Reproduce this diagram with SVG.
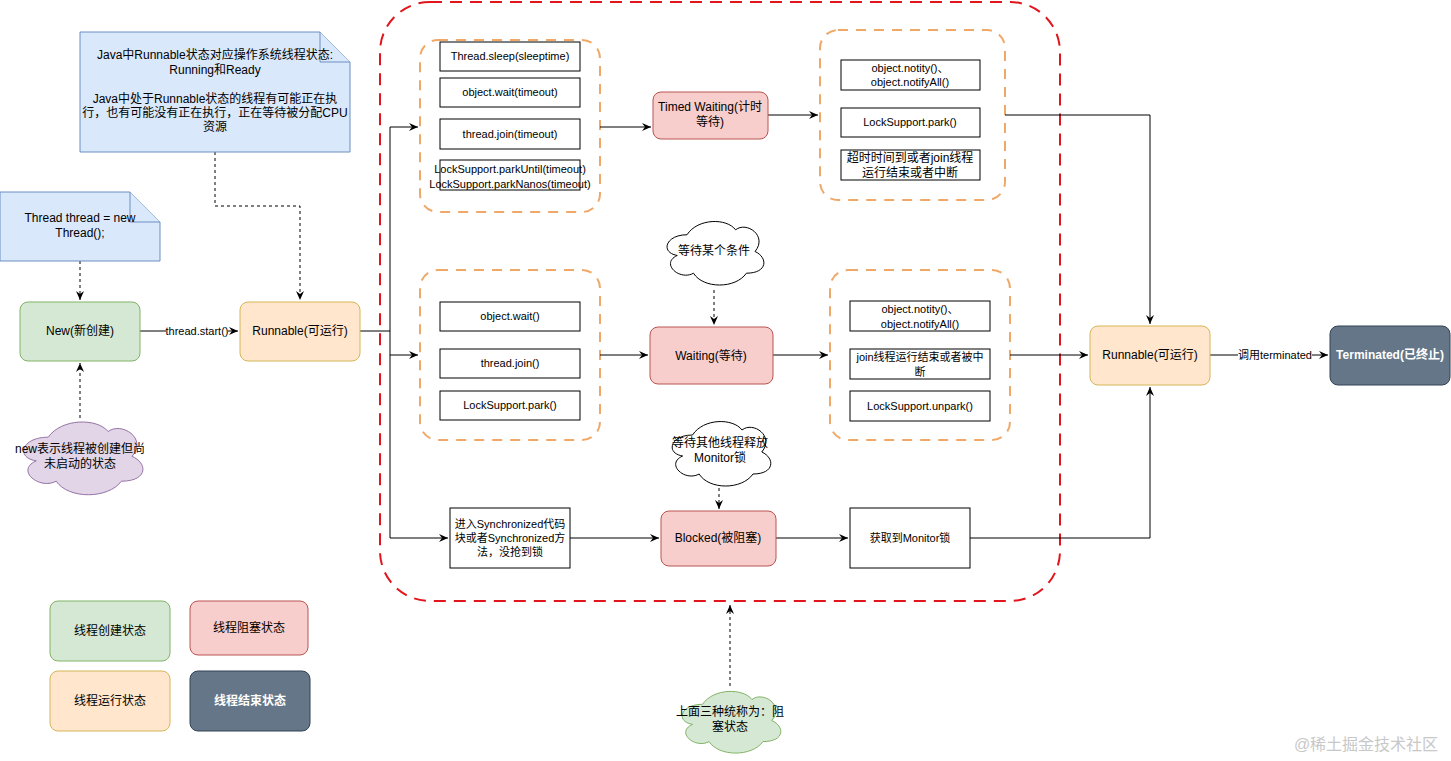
<svg xmlns="http://www.w3.org/2000/svg" xmlns:xlink="http://www.w3.org/1999/xlink" width="1451" height="761" viewBox="0 0 1451 761">
<style>
text{font-family:"Liberation Sans","Noto Sans CJK SC",sans-serif;font-size:12px;fill:#000;text-anchor:middle}
.s{font-size:11px}
.green{fill:#d5e8d4;stroke:#82b366}
.orange{fill:#ffe6cc;stroke:#d6b656}
.red{fill:#f8cecc;stroke:#b85450}
.dark{fill:#647687;stroke:#314354}
.note{fill:#dae8fc;stroke:#6c8ebf}
.box{fill:#fff;stroke:#000}
.grp{fill:none;stroke:#f0a868;stroke-width:2;stroke-dasharray:10 8}
.c{fill:none;stroke:#000}
.d{fill:none;stroke:#000;stroke-dasharray:3 3}
.w{fill:#fff;font-weight:bold}
</style>
<defs>
<marker id="a" markerWidth="10" markerHeight="10" refX="9" refY="5" orient="auto" markerUnits="userSpaceOnUse"><path d="M0,1 L9,5 L0,9 L3,5 Z" fill="#000"/></marker>
<symbol id="cloud" viewBox="0 0 100 70" preserveAspectRatio="none" overflow="visible"><path vector-effect="non-scaling-stroke" d="M25 17 C5 17 0 35 16 38 C0 46 18 64 31 56 C40 72 70 72 80 56 C100 56 100 40 88 34 C100 18 80 3 70 12 C62 0 35 0 25 17 Z"/></symbol>
</defs>
<rect width="1451" height="761" fill="#fff"/>
<rect x="380" y="2" width="680" height="599" rx="50" fill="none" stroke="#e0161c" stroke-width="2" stroke-dasharray="12 8"/>
<g id="groups">
<rect class="grp" x="420" y="40" width="180" height="172" rx="18"/>
<rect class="grp" x="820" y="30" width="185" height="170" rx="18"/>
<rect class="grp" x="420" y="270" width="180" height="170" rx="18"/>
<rect class="grp" x="830" y="270" width="180" height="170" rx="18"/>
</g>
<g id="connectors">
<path class="d" d="M215 152 V206 H300 V300" marker-end="url(#a)"/>
<path class="d" d="M80 261 V300" marker-end="url(#a)"/>
<path class="d" d="M80 418 V363" marker-end="url(#a)"/>
<path class="c" d="M140 331 H238" marker-end="url(#a)"/>
<path class="c" d="M360 331 H390"/>
<path class="c" d="M390 127 V538"/>
<path class="c" d="M390 127 H418" marker-end="url(#a)"/>
<path class="c" d="M390 355 H418" marker-end="url(#a)"/>
<path class="c" d="M390 538 H448" marker-end="url(#a)"/>
<path class="c" d="M600 127 H651" marker-end="url(#a)"/>
<path class="c" d="M768 115 H818" marker-end="url(#a)"/>
<path class="c" d="M1005 115 H1150 V324" marker-end="url(#a)"/>
<path class="c" d="M600 355 H648" marker-end="url(#a)"/>
<path class="c" d="M773 355 H828" marker-end="url(#a)"/>
<path class="c" d="M1010 355 H1088" marker-end="url(#a)"/>
<path class="d" d="M714 290 V325" marker-end="url(#a)"/>
<path class="d" d="M719 488 V509" marker-end="url(#a)"/>
<path class="c" d="M570 538 H659" marker-end="url(#a)"/>
<path class="c" d="M776 538 H848" marker-end="url(#a)"/>
<path class="c" d="M970 538 H1150 V387" marker-end="url(#a)"/>
<path class="c" d="M1210 355 H1328" marker-end="url(#a)"/>
<path class="d" d="M730 686 V605" marker-end="url(#a)"/>
<rect x="166" y="324" width="62" height="14" fill="#fff"/>
<text class="s" x="197" y="335">thread.start()</text>
<rect x="1238" y="348" width="74" height="14" fill="#fff"/>
<text class="s" x="1275" y="359">调用terminated</text>
</g>
<g id="note1"><path class="note" d="M80 32 H320 L350 62 V152 H80 Z"/><path class="note" d="M320 32 V62 H350"/>
<text x="215" y="59">Java中Runnable状态对应操作系统线程状态:</text><text x="215" y="74">Running和Ready</text>
<text x="215" y="103">Java中处于Runnable状态的线程有可能正在执</text><text x="215" y="117">行，也有可能没有正在执行，正在等待被分配CPU</text><text x="215" y="131">资源</text></g>
<g id="note2"><path class="note" d="M0 192 H130 L160 222 V261 H0 Z"/><path class="note" d="M130 192 V222 H160"/>
<text x="80" y="222">Thread thread = new</text><text x="80" y="237">Thread();</text></g>
<g id="new"><rect class="green" x="20" y="302" width="120" height="59" rx="8"/><text x="80" y="335">New(新创建)</text></g>
<g id="runnable1"><rect class="orange" x="240" y="302" width="120" height="59" rx="8"/><text x="300" y="335">Runnable(可运行)</text></g>
<g id="cloudNew"><use href="#cloud" x="15" y="418" width="133" height="79" class="" fill="#e1d5e7" stroke="#9673a6"/><text x="80" y="453">new表示线程被创建但尚</text><text x="80" y="468">未启动的状态</text></g>
<g id="g1box">
<rect class="box" x="440" y="42" width="140" height="29"/><text class="s" x="510" y="60">Thread.sleep(sleeptime)</text>
<rect class="box" x="440" y="78" width="140" height="29"/><text class="s" x="510" y="96">object.wait(timeout)</text>
<rect class="box" x="440" y="119" width="140" height="30"/><text class="s" x="510" y="138">thread.join(timeout)</text>
<rect class="box" x="440" y="160" width="140" height="30"/><text class="s" x="510" y="173">LockSupport.parkUntil(timeout)</text><text class="s" x="510" y="188">LockSupport.parkNanos(timeout)</text>
</g>
<g id="timed"><rect class="red" x="653" y="92" width="115" height="47" rx="8"/><text x="710" y="111">Timed Waiting(计时</text><text x="710" y="126">等待)</text></g>
<g id="g2box">
<rect class="box" x="841" y="60" width="139" height="30"/><text class="s" x="910" y="72">object.notity()、</text><text class="s" x="910" y="86">object.notifyAll()</text>
<rect class="box" x="841" y="108" width="139" height="29"/><text class="s" x="910" y="126">LockSupport.park()</text>
<rect class="box" x="841" y="150" width="139" height="30"/><text x="910" y="162">超时时间到或者join线程</text><text x="910" y="177">运行结束或者中断</text>
</g>
<g id="cloudWait"><use href="#cloud" x="660" y="218" width="108" height="69" fill="#fff" stroke="#000"/><text x="714" y="255">等待某个条件</text></g>
<g id="waiting"><rect class="red" x="650" y="327" width="123" height="57" rx="8"/><text x="711" y="360">Waiting(等待)</text></g>
<g id="g3box">
<rect class="box" x="440" y="302" width="140" height="29"/><text class="s" x="510" y="320">object.wait()</text>
<rect class="box" x="440" y="349" width="140" height="29"/><text class="s" x="510" y="367">thread.join()</text>
<rect class="box" x="440" y="391" width="140" height="29"/><text class="s" x="510" y="409">LockSupport.park()</text>
</g>
<g id="g4box">
<rect class="box" x="850" y="301" width="140" height="30"/><text class="s" x="920" y="313">object.notity()、</text><text class="s" x="920" y="328">object.notifyAll()</text>
<rect class="box" x="850" y="349" width="140" height="30"/><text class="s" x="920" y="361">join线程运行结束或者被中</text><text class="s" x="920" y="376">断</text>
<rect class="box" x="850" y="391" width="140" height="30"/><text class="s" x="920" y="410">LockSupport.unpark()</text>
</g>
<g id="cloudMon"><use href="#cloud" x="665" y="418" width="110" height="70" fill="#fff" stroke="#000"/><text x="720" y="447">等待其他线程释放</text><text x="720" y="462">Monitor锁</text></g>
<g id="sync"><rect class="box" x="450" y="508" width="120" height="60"/><text class="s" x="510" y="528">进入Synchronized代码</text><text class="s" x="510" y="542">块或者Synchronized方</text><text class="s" x="510" y="556">法，没抢到锁</text></g>
<g id="blocked"><rect class="red" x="661" y="511" width="115" height="55" rx="8"/><text x="718" y="542">Blocked(被阻塞)</text></g>
<g id="monitor"><rect class="box" x="850" y="508" width="120" height="60"/><text class="s" x="910" y="542">获取到Monitor锁</text></g>
<g id="runnable2"><rect class="orange" x="1090" y="326" width="120" height="59" rx="8"/><text x="1150" y="359">Runnable(可运行)</text></g>
<g id="terminated"><rect class="dark" x="1330" y="326" width="120" height="59" rx="8"/><text class="w" x="1390" y="359">Terminated(已终止)</text></g>
<g id="cloudGreen"><use href="#cloud" x="675" y="688" width="110" height="67" fill="#d5e8d4" stroke="#82b366"/><text x="730" y="716">上面三种统称为：阻</text><text x="730" y="731">塞状态</text></g>
<g id="legend">
<rect class="green" x="50" y="601" width="120" height="60" rx="8"/><text x="110" y="635">线程创建状态</text>
<rect class="red" x="190" y="601" width="118" height="54" rx="8"/><text x="249" y="632">线程阻塞状态</text>
<rect class="orange" x="50" y="671" width="120" height="60" rx="8"/><text x="110" y="705">线程运行状态</text>
<rect class="dark" x="190" y="671" width="120" height="60" rx="8"/><text class="w" x="250" y="705">线程结束状态</text>
</g>
<text x="1366" y="750" style="font-size:16px;fill:#c8c8c8">@稀土掘金技术社区</text>
</svg>
